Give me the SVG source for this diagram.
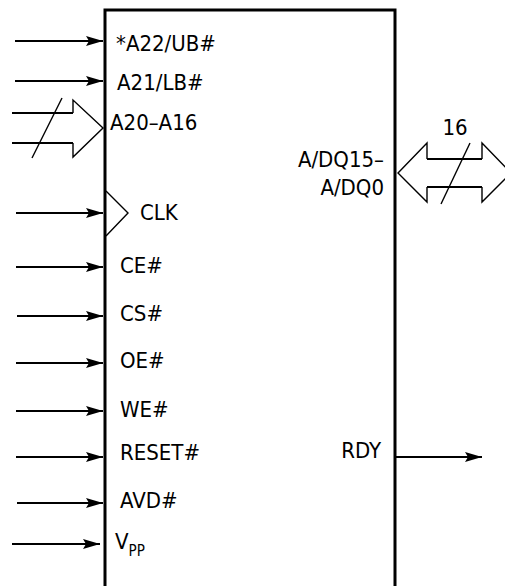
<svg xmlns="http://www.w3.org/2000/svg" width="505" height="586" viewBox="0 0 505 586">
<style>
text{font-family:"DejaVu Sans Condensed","DejaVu Sans",sans-serif;font-stretch:condensed;font-size:22px;fill:#000}
.sig{stroke:#000;stroke-width:2;fill:none}
.thin{stroke:#000;stroke-width:1.4;fill:none}
.box{stroke:#000;stroke-width:3;fill:#fff}
</style>
<defs>
<marker id="ah" markerUnits="userSpaceOnUse" markerWidth="18" markerHeight="11" refX="17" refY="5" orient="auto">
<path d="M0,0 L17,5 L0,10 L3,5 z" fill="#000"/>
</marker>
</defs>
<g id="chip">
<path class="box" d="M105,590 L105,10 L395,10 L395,590"/>
<polyline class="thin" points="106,191 128,213 106,236" stroke-width="2"/>
</g>
<g id="connectors">
<line class="sig" x1="15" y1="41" x2="103" y2="41" marker-end="url(#ah)"/>
<line class="sig" x1="15" y1="81" x2="103" y2="81" marker-end="url(#ah)"/>
<polyline class="sig" points="12,113 73,113"/>
<polyline class="sig" points="12,143 73,143"/>
<polyline class="thin" points="73,113 73,100 103,128 73,157 73,143"/>
<line class="thin" x1="62" y1="98" x2="32" y2="158"/>
<line class="sig" x1="16" y1="213" x2="103" y2="213" marker-end="url(#ah)"/>
<line class="sig" x1="16" y1="267" x2="103" y2="267" marker-end="url(#ah)"/>
<line class="sig" x1="17" y1="316" x2="103" y2="316" marker-end="url(#ah)"/>
<line class="sig" x1="16" y1="363" x2="103" y2="363" marker-end="url(#ah)"/>
<line class="sig" x1="16" y1="411" x2="103" y2="411" marker-end="url(#ah)"/>
<line class="sig" x1="16" y1="457" x2="103" y2="457" marker-end="url(#ah)"/>
<line class="sig" x1="17" y1="503" x2="103" y2="503" marker-end="url(#ah)"/>
<line class="sig" x1="12" y1="544" x2="100" y2="544" marker-end="url(#ah)"/>
<line class="sig" x1="395" y1="457" x2="482" y2="457" marker-end="url(#ah)"/>
<polyline class="sig" points="427,159 482,159"/>
<polyline class="sig" points="427,187 482,187"/>
<polyline class="thin" points="427,159 427,143 398,173 427,202 427,187"/>
<polyline class="thin" points="482,159 482,143 511,173 482,202 482,187"/>
<line class="thin" x1="470" y1="143" x2="441" y2="204"/>
</g>
<g id="labels">
<text x="116" y="51">*A22/UB#</text>
<text x="117" y="90">A21/LB#</text>
<text x="110" y="130">A20–A16</text>
<text x="140" y="220">CLK</text>
<text x="120" y="273">CE#</text>
<text x="120" y="321">CS#</text>
<text x="120" y="368">OE#</text>
<text x="120" y="417">WE#</text>
<text x="120" y="460">RESET#</text>
<text x="120" y="508">AVD#</text>
<text x="115" y="549">V<tspan font-size="15" dy="7">PP</tspan></text>
<text x="381" y="458" text-anchor="end">RDY</text>
<text x="384" y="167" text-anchor="end">A/DQ15–</text>
<text x="384" y="195" text-anchor="end">A/DQ0</text>
<text x="455" y="135" text-anchor="middle">16</text>
</g>
</svg>
